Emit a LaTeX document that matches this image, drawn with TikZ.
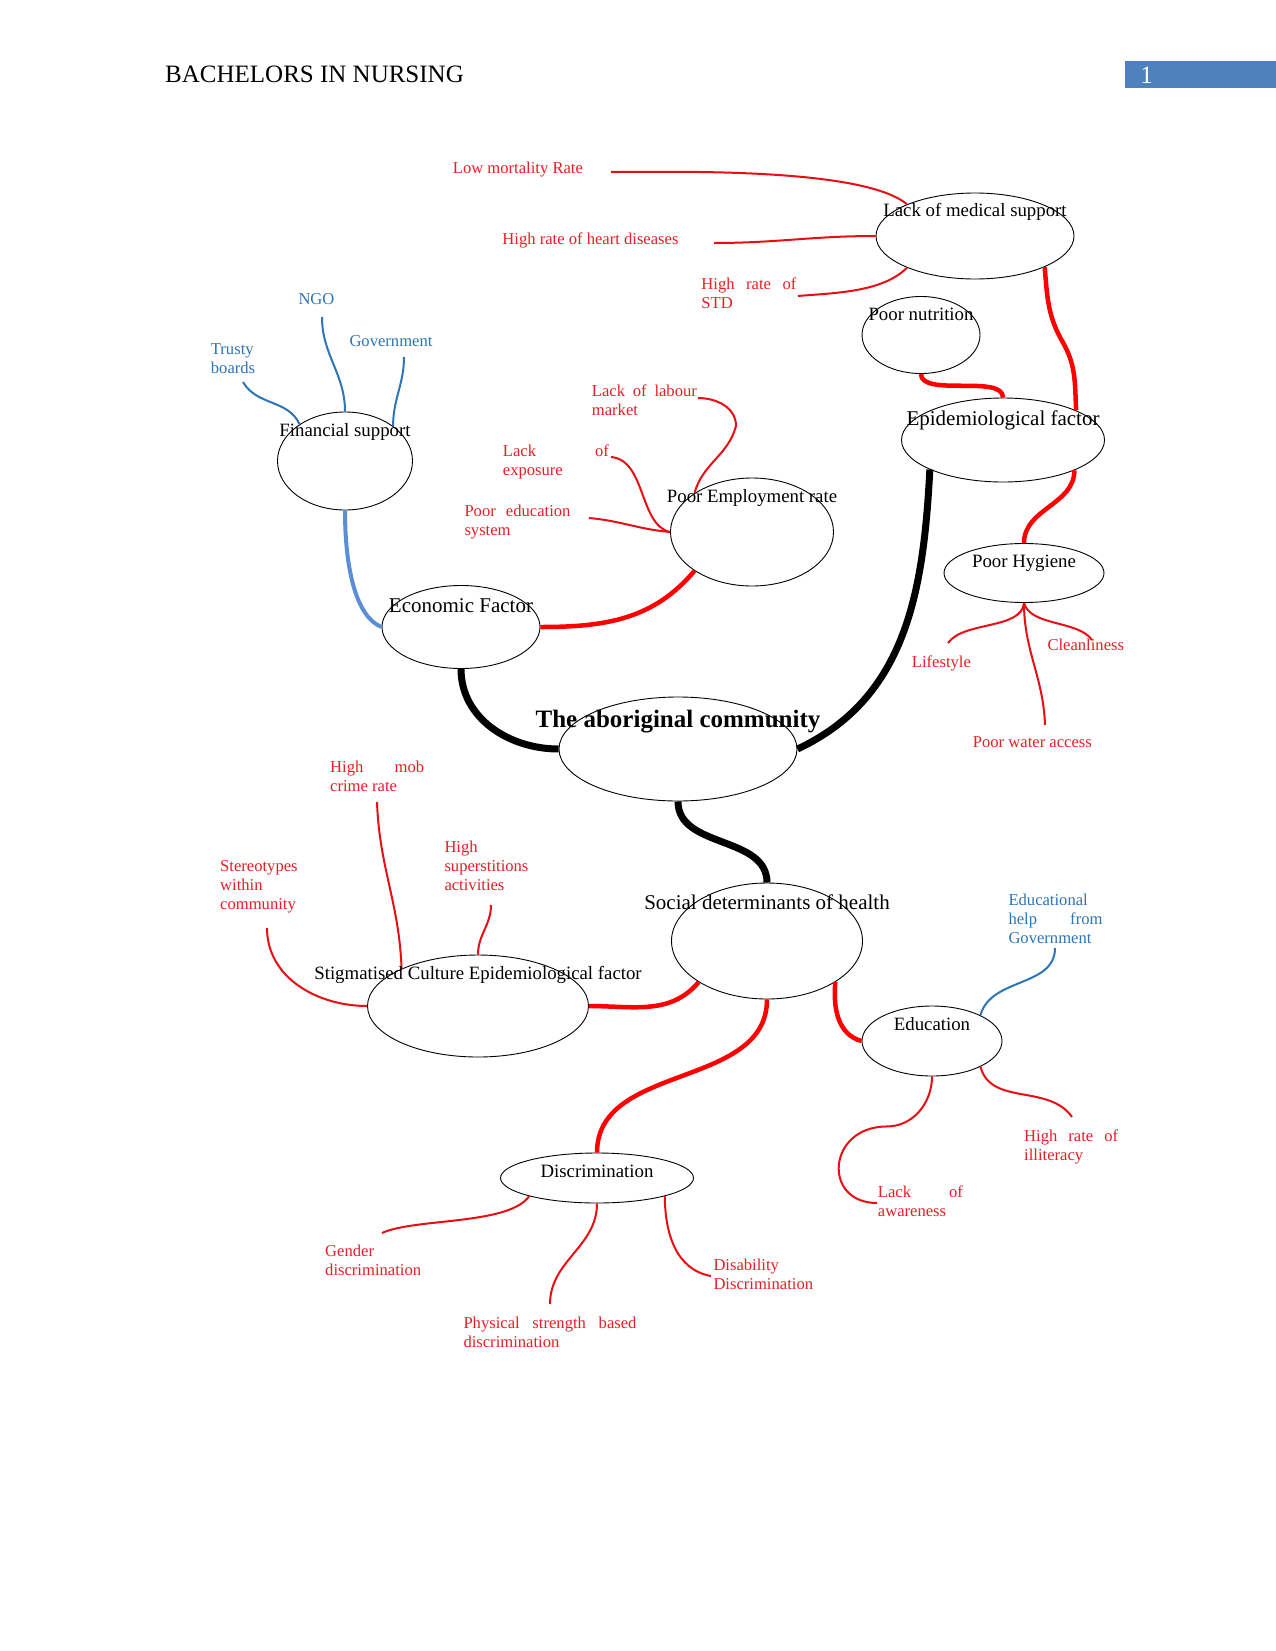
\documentclass[tikz,border=0pt]{standalone}
\usepackage{fontspec}
\setmainfont{Liberation Serif}
\usetikzlibrary{shapes.geometric,calc}

\definecolor{notered}{RGB}{228,32,38}
\definecolor{twigred}{RGB}{232,14,20}
\definecolor{linkred}{RGB}{255,0,0}
\definecolor{noteblue}{RGB}{46,117,182}
\definecolor{linkblue}{RGB}{91,142,214}
\definecolor{barblue}{RGB}{79,129,189}

\newcommand{\notefont}{\fontsize{16.6pt}{19pt}\selectfont}
\newcommand{\bubfont}{\fontsize{18.8pt}{22pt}\selectfont}
\newcommand{\bigbubfont}{\fontsize{21pt}{24pt}\selectfont}
\newcommand{\corefont}{\fontsize{25pt}{28pt}\selectfont\bfseries}
\newcommand{\headfont}{\fontsize{25pt}{28pt}\selectfont}
% justified first line of a label
\newcommand{\jline}[2]{\makebox[#1][s]{#2}}

\tikzset{
  % Bubble: empty ellipse, its title is set separately near the top
  bubble/.style={draw, ellipse, inner sep=0pt, line width=0.9pt},
  bubtext/.style={font=\bubfont, anchor=base, inner sep=0pt},
  bubtext-big/.style={bubtext, font=\bigbubfont},
  bubtext-core/.style={bubtext, font=\corefont},
  % Free labels round the bubbles
  note/.style={font=\notefont, text=notered, inner sep=0pt, anchor=north west, align=left},
  note-blue/.style={note, text=noteblue},
  % Connectors
  trunk/.style={line width=7pt, black},
  branch/.style={line width=4.5pt, linkred},
  branch-blue/.style={line width=4pt, linkblue},
  twig/.style={line width=2pt, twigred},
  twig-blue/.style={line width=2pt, noteblue}
}

\begin{document}
\begin{tikzpicture}[x=1pt, y=-1pt]
\useasboundingbox (0,0) rectangle (1275,1651);
\fill[white] (0,0) rectangle (1275,1651);

% ============== Page header ==============
\node[font=\headfont, anchor=base west, inner sep=0pt] (hdr) at (165,83) {BACHELORS IN NURSING};
\node[fill=barblue, anchor=north west, inner sep=0pt, minimum width=151pt, minimum height=27pt] (pgbar) at (1124.5,61) {};
\node[font=\headfont, text=white, anchor=base, inner sep=0pt] (pgnum) at (1146.6,83.4) {1};

% ============== Bubbles ==============
\node[bubble, minimum width=198pt, minimum height=86pt] (med) at (975,236) {};
\node[bubble, minimum width=118pt, minimum height=77pt] (nut) at (921,335) {};
\node[bubble, minimum width=203pt, minimum height=84pt] (epi) at (1003,440) {};
\node[bubble, minimum width=160pt, minimum height=59pt] (hyg) at (1024,573) {};
\node[bubble, minimum width=135pt, minimum height=98pt] (fin) at (345,461) {};
\node[bubble, minimum width=163pt, minimum height=108pt] (emp) at (752,532) {};
\node[bubble, minimum width=158pt, minimum height=83pt] (eco) at (461,627) {};
\node[bubble, minimum width=238pt, minimum height=104pt] (abor) at (678,749) {};
\node[bubble, minimum width=191pt, minimum height=116pt] (soc) at (767,941) {};
\node[bubble, minimum width=221pt, minimum height=102pt] (stig) at (478,1006) {};
\node[bubble, minimum width=140pt, minimum height=70pt] (edu) at (932,1041) {};
\node[bubble, minimum width=193pt, minimum height=50pt] (disc) at (597,1178) {};

% ============== Main branches ==============
\draw[trunk] (eco.south) to[out=-90,in=180] (abor.west);
\draw[trunk] (abor.east) to[out=25,in=-93] (epi.202);
\draw[trunk] (abor.south) to[out=-90,in=90] (soc.north);

\draw[branch] (eco.east) to[out=0,in=-130] (emp.214);
\draw[branch] (nut.south) to[out=-90,in=90,looseness=0.7] (epi.north);
\draw[branch] (med.-24) to[out=-85,in=120] ++(18,75) to[out=-60,in=93] (epi.22);
\draw[branch] (epi.-23) to[out=-90,in=90] (hyg.north);
\draw[branch] (soc.211) to[out=-130,in=0] (stig.east);
\draw[branch] (soc.south) to[out=-90,in=90] (disc.north);
\draw[branch] (soc.-31) to[out=-95,in=165] (edu.west);
\draw[branch-blue] (fin.south) .. controls +(0,60) and +(-25,-10) .. (eco.west);

% ============== Free ends of the twigs ==============
\coordinate (lowmort-end) at (611,172);
\coordinate (heart-end) at (714,243);
\coordinate (std-end) at (798,296);
\coordinate (ngo-end) at (322,317);
\coordinate (govt-end) at (404,357);
\coordinate (trusty-end) at (243,382);
\coordinate (labour-end) at (698,398);
\coordinate (expo-end) at (611,457);
\coordinate (edusys-end) at (589,518);
\coordinate (life-end) at (948,643);
\coordinate (clean-end) at (1092,640);
\coordinate (water-end) at (1045,725);
\coordinate (stereo-end) at (267,928);
\coordinate (mob-end) at (377,802);
\coordinate (super-end) at (491,905);
\coordinate (edugov-end) at (1055,948);
\coordinate (aware-end) at (877,1203);
\coordinate (illit-end) at (1072,1117);
\coordinate (gender-end) at (382,1233);
\coordinate (phys-end) at (550,1304);
\coordinate (disab-end) at (711,1276);

% ============== Twigs ==============
% medical support
\draw[twig] (lowmort-end) to[out=0,in=140,looseness=0.5] (med.155);
\draw[twig] (heart-end) to[out=0,in=180] (med.west);
\draw[twig] (std-end) to[out=5,in=-135,looseness=0.8] (med.205);
% financial support
\draw[twig-blue] (ngo-end) to[out=-90,in=90] (fin.north);
\draw[twig-blue] (govt-end) to[out=-90,in=90] (fin.36);
\draw[twig-blue] (trusty-end) to[out=-60,in=115] (fin.141);
% employment
\draw[twig] (labour-end) to[out=0,in=90] ++(38,28) to[out=-105,in=75] (emp.146);
\draw[twig] (expo-end) .. controls +(35,3) and +(-31,-7) .. (emp.west);
\draw[twig] (edusys-end) to[out=-5,in=175] (emp.west);
% hygiene
\draw[twig] (hyg.south) to[out=-95,in=55,looseness=0.8] (life-end);
\draw[twig] (hyg.south) to[out=-75,in=125,looseness=0.8] (clean-end);
\draw[twig] (hyg.south) to[out=-90,in=92] (water-end);
% stigmatised culture
\draw[twig] (stereo-end) to[out=-90,in=180] (stig.west);
\draw[twig] (mob-end) to[out=-88,in=92] (stig.154);
\draw[twig] (super-end) to[out=-90,in=90] (stig.north);
% education
\draw[twig-blue] (edugov-end) to[out=-90,in=75] (edu.28);
\draw[twig] (edu.south) to[out=-90,in=0] ++(-45,50) .. controls +(-60,0) and +(-55,0) .. (aware-end);
\draw[twig] (edu.-28) to[out=-75,in=125] (illit-end);
% discrimination
\draw[twig] (disc.195) to[out=-125,in=25,looseness=0.6] (gender-end);
\draw[twig] (disc.south) to[out=-90,in=90] (phys-end);
\draw[twig] (disc.-15) to[out=-90,in=170] (disab-end);

% ============== Bubble titles ==============
\node[bubtext] (medtxt) at ($(med.north)+(0,24)$) {Lack of medical support};
\node[bubtext] (nuttxt) at ($(nut.north)+(0,24)$) {Poor nutrition};
\node[bubtext-big] (epitxt) at ($(epi.north)+(0,28)$) {Epidemiological factor};
\node[bubtext] (hygtxt) at ($(hyg.north)+(0,24.5)$) {Poor Hygiene};
\node[bubtext] (fintxt) at ($(fin.north)+(0,25)$) {Financial support};
\node[bubtext] (emptxt) at ($(emp.north)+(0,24.5)$) {Poor Employment rate};
\node[bubtext-big] (ecotxt) at ($(eco.north)+(0,27.5)$) {Economic Factor};
\node[bubtext-core] (abortxt) at ($(abor.north)+(0,30.5)$) {The aboriginal community};
\node[bubtext-big] (soctxt) at ($(soc.north)+(0,27)$) {Social determinants of health};
\node[bubtext] (stigtxt) at ($(stig.north)+(0,24.5)$) {Stigmatised Culture Epidemiological factor};
\node[bubtext] (edutxt) at ($(edu.north)+(0,25)$) {Education};
\node[bubtext] (disctxt) at ($(disc.north)+(0,25)$) {Discrimination};

% ============== Labels ==============
\node[note] (lowmort) at (452.7,161.4) {Low mortality Rate};
\node[note] (heart) at (502.2,233) {High rate of heart diseases};
\node[note] (std) at (701.2,277.2) {\jline{95pt}{High rate of}\\STD};
\node[note-blue] (ngo) at (298.3,293.3) {NGO};
\node[note-blue] (govt) at (349.3,335) {Government};
\node[note-blue] (trusty) at (210.7,343) {Trusty\\boards};
\node[note] (labour) at (591.7,384.7) {\jline{105pt}{Lack of labour}\\market};
\node[note] (expo) at (502.7,444.7) {\jline{106pt}{Lack of}\\exposure};
\node[note] (edusys) at (464.3,504.7) {\jline{106pt}{Poor education}\\system};
\node[note] (life) at (911.7,655.7) {Lifestyle};
\node[note] (clean) at (1047.3,638.3) {Cleanliness};
\node[note] (water) at (972.7,736.7) {Poor water access};
\node[note] (mob) at (330,760.7) {\jline{94pt}{High mob}\\crime rate};
\node[note] (super) at (444.3,840.7) {High\\superstitions\\activities};
\node[note] (stereo) at (220,860.7) {Stereotypes\\within\\community};
\node[note-blue] (edugov) at (1008.3,893.3) {Educational\\\jline{94pt}{help from}\\Government};
\node[note] (illit) at (1024,1129.7) {\jline{94pt}{High rate of}\\illiteracy};
\node[note] (aware) at (877.7,1185.7) {\jline{85pt}{Lack of}\\awareness};
\node[note] (gender) at (325,1244.7) {Gender\\discrimination};
\node[note] (disab) at (713.3,1259) {Disability\\Discrimination};
\node[note] (phys) at (463.3,1316.7) {\jline{173pt}{Physical strength based}\\discrimination};

\end{tikzpicture}
\end{document}
